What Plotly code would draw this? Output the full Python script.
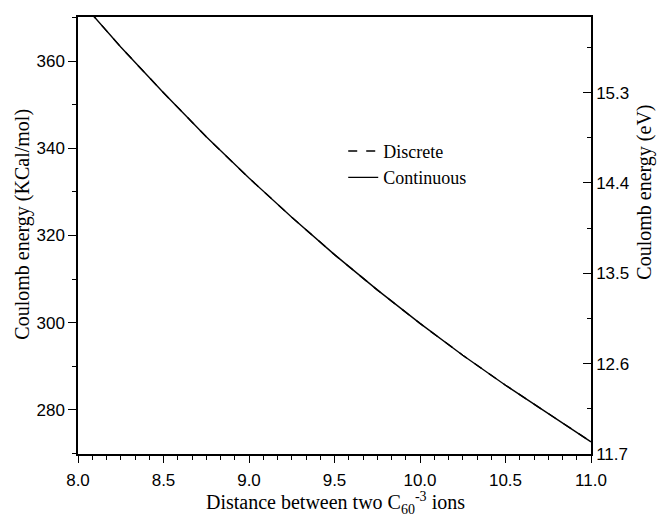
import plotly.graph_objects as go

# Data
distance = [8.0, 8.25, 8.5, 8.75, 9.0, 9.25, 9.5, 9.75, 10.0, 10.25, 10.5, 10.75, 11.0]
continuous_kcal = [374.5, 363.3, 352.8, 342.7, 333.2, 324.2, 315.6, 307.5, 299.8, 292.5, 285.6, 279.0, 272.6]
discrete_kcal = [374.5, 363.3, 352.8, 342.7, 333.2, 324.2, 315.6, 307.5, 299.8, 292.5, 285.6, 279.0, 272.6]

left_ticks = [280, 300, 320, 340, 360]
right_ticks = [11.7, 12.6, 13.5, 14.4, 15.3]
right_tick_labels = ["11.7", "12.6", "13.5", "14.4", "15.3"]
right_minor = [12.15, 13.05, 13.95, 14.85, 15.75]
x_ticks = [8.0, 8.5, 9.0, 9.5, 10.0, 10.5, 11.0]
x_tick_labels = ["8.0", "8.5", "9.0", "9.5", "10.0", "10.5", "11.0"]

KCAL_TO_EV = 0.0433641
y_range = [269.8, 370.2]

serif = "Liberation Serif"
sans = "Liberation Sans"

fig = go.Figure()
fig.add_trace(go.Scatter(x=distance, y=discrete_kcal, mode="lines", name="Discrete",
                         line=dict(color="black", width=1.4, dash="dash")))
fig.add_trace(go.Scatter(x=distance, y=continuous_kcal, mode="lines", name="Continuous",
                         line=dict(color="black", width=1.4)))
# invisible trace to activate the right axis
fig.add_trace(go.Scatter(x=[distance[0]], y=[right_ticks[0]], yaxis="y2", mode="lines",
                         showlegend=False, hoverinfo="skip", line=dict(color="rgba(0,0,0,0)")))

fig.update_layout(
    width=649, height=508,
    margin=dict(l=70, r=66, t=7, b=62),
    paper_bgcolor="white", plot_bgcolor="white",
    showlegend=True,
    legend=dict(x=0.517, y=0.735, xanchor="left", yanchor="top",
                font=dict(family=serif, size=18, color="black"),
                bgcolor="rgba(0,0,0,0)", tracegroupgap=0),
    xaxis=dict(range=[8.0, 11.0], tickvals=x_ticks, ticktext=x_tick_labels,
               ticks="outside", ticklen=7, tickwidth=1.3, tickcolor="black",
               minor=dict(dtick=0.5 / 6, ticks="outside", ticklen=4, tickwidth=1, tickcolor="black"),
               showline=True, linecolor="black", linewidth=1.5, mirror=True,
               showgrid=False, zeroline=False, ticklabelstandoff=3,
               tickfont=dict(family=sans, size=17, color="black")),
    yaxis=dict(range=y_range, tickvals=left_ticks,
               ticks="outside", ticklen=8, tickwidth=1.3, tickcolor="black",
               minor=dict(dtick=10, ticks="outside", ticklen=4, tickwidth=1, tickcolor="black"),
               showline=True, linecolor="black", linewidth=1.5,
               showgrid=False, zeroline=False,
               tickfont=dict(family=sans, size=17, color="black")),
    yaxis2=dict(overlaying="y", side="right",
                range=[y_range[0] * KCAL_TO_EV, y_range[1] * KCAL_TO_EV],
                tickvals=right_ticks, ticktext=right_tick_labels,
                ticks="inside", ticklen=8, tickwidth=1.3, tickcolor="black",
                minor=dict(tickvals=right_minor, ticks="inside",
                           ticklen=4, tickwidth=1, tickcolor="black"),
                showline=True, linecolor="black", linewidth=1.5,
                showgrid=False, zeroline=False,
                tickfont=dict(family=sans, size=17, color="black")),
    annotations=[
        dict(text="Coulomb energy (KCal/mol)", xref="paper", yref="paper",
             x=-0.109, y=0.525, xanchor="center", yanchor="middle", textangle=-90,
             showarrow=False, font=dict(family=serif, size=20, color="black")),
        dict(text="Coulomb energy (eV)", xref="paper", yref="paper",
             x=1.105, y=0.6, xanchor="center", yanchor="middle", textangle=-90,
             showarrow=False, font=dict(family=serif, size=20, color="black")),
        dict(text="Distance between two C<sub>60</sub><sup>-3</sup> ions", xref="paper", yref="paper",
             x=0.501, y=-0.112, xanchor="center", yanchor="middle",
             showarrow=False, font=dict(family=serif, size=20, color="black")),
    ],
)

fig.write_html("out.html")
